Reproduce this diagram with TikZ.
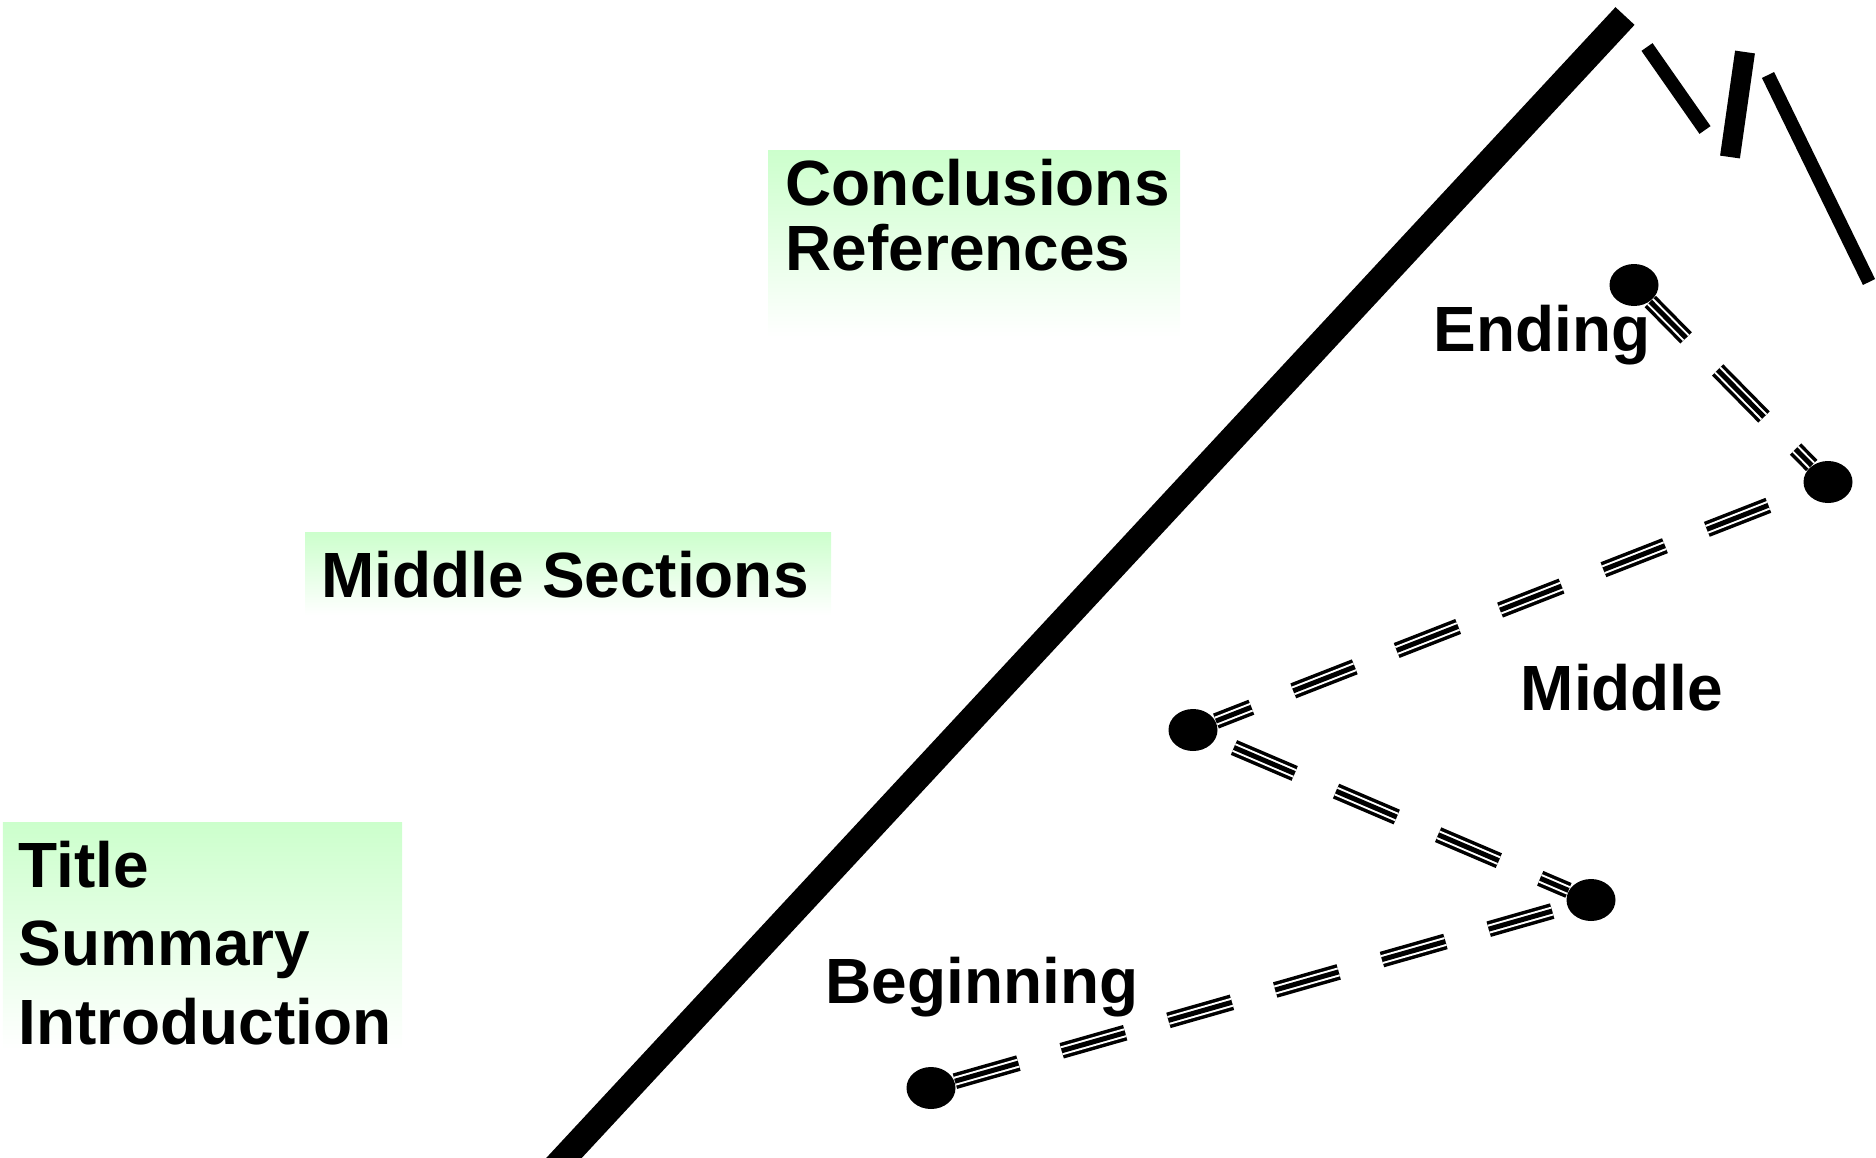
\documentclass[tikz,border=0pt]{standalone}
\usepackage{fontspec}
\setmainfont{Liberation Sans}
\usepackage{tikz}
\usetikzlibrary{shapes.geometric, positioning}
\definecolor{lightgreen}{RGB}{204,255,204}
\tikzset{
  dsh/.style={dash pattern=on 0.66cm off 0.45cm, dash phase=#1},
  dsh/.default=0cm,
  triple/.style={draw=black, line width=0.16cm, dsh=#1,
    postaction={draw=white, line width=0.09cm, dsh=#1},
    postaction={draw=black, line width=0.05cm, dsh=#1}},
  triple/.default=0cm,
  dot/.style={ellipse, fill=black, inner sep=0pt, minimum width=0.49cm, minimum height=0.42cm},
  label/.style={inner sep=0pt, anchor=base west, font=\fontsize{18.2}{18.4}\selectfont\bfseries},
  greenbox/.style={top color=lightgreen, bottom color=white}
}

\begin{document}
\begin{tikzpicture}
\useasboundingbox (0,0) rectangle (18.76,-11.57);
\shade[greenbox] (7.68,-1.50) rectangle (11.80,-3.37);
\shade[greenbox] (3.05,-5.32) rectangle (8.31,-6.15);
\shade[greenbox] (0.03,-8.22) rectangle (4.02,-10.50);
\node[label, align=left, font=\fontsize{18.2}{18.4}\selectfont\bfseries] (concl) at (7.85,-2.70) {Conclusions\\References};
\node[label] (midsec) at (3.21,-5.97) {Middle Sections};
\node[label, align=left, font=\fontsize{18.2}{22.3}\selectfont\bfseries] (intro) at (0.18,-10.44) {Title\\Summary\\Introduction};
\node[label] (ending) at (14.33,-3.51) {Ending};
\node[label] (middle) at (15.20,-7.10) {Middle};
\node[label] (beginning) at (8.25,-10.03) {Beginning};
\draw[line width=0.26cm] (16.25,-0.16) -- (5.50,-11.73);
\draw[line width=0.135cm] (16.47,-0.47) -- (17.05,-1.30);
\draw[line width=0.20cm] (17.45,-0.52) -- (17.30,-1.57);
\draw[line width=0.135cm] (17.68,-0.75) -- (18.69,-2.82);
\node[dot] (a) at (9.31,-10.88) {};
\node[dot] (b) at (15.91,-9.00) {};
\node[dot] (c) at (11.93,-7.30) {};
\node[dot] (d) at (18.28,-4.82) {};
\node[dot] (e) at (16.34,-2.85) {};
\draw[triple] (a) -- (b);
\draw[triple=0.91cm] (c) -- (b);
\draw[triple=0.28cm] (c) -- (d);
\draw[triple=0.15cm] (e) -- (d);
\end{tikzpicture}
\end{document}
